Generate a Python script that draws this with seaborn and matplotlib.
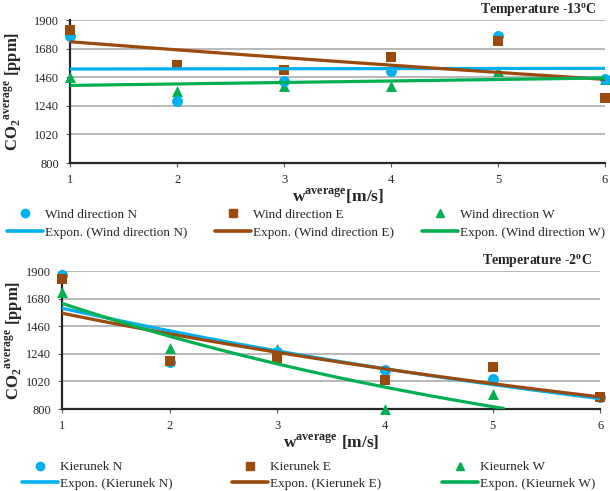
import matplotlib
matplotlib.use("Agg")
import matplotlib.pyplot as plt
import numpy as np
import pandas as pd
import seaborn as sns
from matplotlib.lines import Line2D

# wind speed [m/s]
wind = [1, 2, 3, 4, 5, 6]

# CO2 average [ppm], temperature -13 C
top_n = [1776, 1280, 1429, 1511, 1776, 1450]
top_e = [1823, 1553, 1514, 1614, 1743, 1300]
top_w = [1460, 1357, 1391, 1396, 1506, 1450]

# CO2 average [ppm], temperature -2 C
bot_n = [1870, 1173, 1253, 1112, 1040, 893]
bot_e = [1839, 1186, 1205, 1032, 1138, 893]
bot_w = [1732, 1285, 1280, 800, 920]

top_labels = ['Wind direction N', 'Wind direction E', 'Wind direction W']
bot_labels = ['Kierunek N', 'Kierunek E', 'Kieurnek W']
yticks = [800, 1020, 1240, 1460, 1680, 1900]

colors = ['#00B0F0', '#9A4A0C', '#00B050']
markers = ['o', 's', '^']

sns.set_style("white")
plt.rcParams['font.family'] = ['Liberation Serif', 'DejaVu Serif']
plt.rcParams['mathtext.fontset'] = 'custom'
plt.rcParams['mathtext.rm'] = 'Liberation Serif'
plt.rcParams['mathtext.bf'] = 'Liberation Serif:bold'


def expon_fit(x, y, x_end):
    # Excel-style exponential trendline
    b, a = np.polyfit(x, np.log(y), 1)
    xs = np.linspace(x[0], x_end, 60)
    return xs, np.exp(a + b * xs)


def draw_panel(ax, series, labels, title, xlabel, ends, leg_x, leg_y, leg_sp, ypad):
    for i in [2, 0, 1]:
        ys = series[i]
        df = pd.DataFrame({'w': wind[:len(ys)], 'co2': ys})
        sns.scatterplot(data=df, x='w', y='co2', ax=ax, color=colors[i],
                        marker=markers[i], s=62, linewidth=0, zorder=3, clip_on=False)
    for i in [0, 1, 2]:
        ys = series[i]
        xs, yf = expon_fit(np.array(wind[:len(ys)], float), np.array(ys, float), ends[i])
        sns.lineplot(x=xs, y=yf, ax=ax, color=colors[i], lw=2.3, zorder=4)

    ax.set_xlim(1, 6)
    ax.set_ylim(800, 1900)
    ax.set_xticks(wind)
    ax.set_yticks(yticks)
    ax.yaxis.grid(True, color='#A6A6A6', lw=1.1)
    ax.set_axisbelow(True)
    for s in ['top', 'right']:
        ax.spines[s].set_visible(False)
    for s in ['left', 'bottom']:
        ax.spines[s].set_color('#262626')
        ax.spines[s].set_linewidth(1.6)
    ax.tick_params(axis='both', labelsize=9, length=3, width=0.8,
                   direction='out', color='#595959', left=True, bottom=True, pad=5)
    ax.set_ylabel(r'CO$_\mathbf{2}{}^\mathbf{average}$ [ppm]', fontsize=12,
                  fontweight='bold', labelpad=ypad)
    ax.set_xlabel(xlabel, fontsize=12.5, fontweight='bold', labelpad=0)
    ax.text(0.985, 1.07, title, transform=ax.transAxes, ha='right', va='center',
            fontsize=10, fontweight='bold')

    # one legend per column, equal spacing like the original
    for i in range(3):
        handles = [Line2D([], [], ls='none', marker=markers[i], color=colors[i],
                          markersize=6, label=labels[i]),
                   Line2D([], [], color=colors[i], lw=2.6,
                          label='Expon. (%s)' % labels[i])]
        leg = ax.legend(handles=handles, loc='upper left',
                        bbox_to_anchor=(leg_x[i], leg_y), frameon=False,
                        fontsize=9.5, handlelength=2.7, handletextpad=0.15,
                        labelspacing=leg_sp, borderpad=0, borderaxespad=0)
        if i < 2:
            ax.add_artist(leg)


fig = plt.figure(figsize=(6.1, 4.91), dpi=100)
ax1 = fig.add_axes([0.115, 0.668, 0.877, 0.291])
ax2 = fig.add_axes([0.102, 0.167, 0.882, 0.281])

draw_panel(ax1, [top_n, top_e, top_w], top_labels,
           r'Temperature -13$^\mathbf{o}$C', r'w$^\mathbf{average}$[m/s]',
           [6, 6, 6], [(7 - 70) / 535, (215 - 70) / 535, (422 - 70) / 535], -0.318, 0.45, 7)
draw_panel(ax2, [bot_n, bot_e, bot_w], bot_labels,
           r'Temperature -2$^\mathbf{o}$C', r'w$^\mathbf{average}$ [m/s]',
           [6, 6, 5.1], [(22 - 62) / 538, (232 - 62) / 538, (442 - 62) / 538], -0.378, 0.3, 1)

fig.savefig('out.png', dpi=100)
